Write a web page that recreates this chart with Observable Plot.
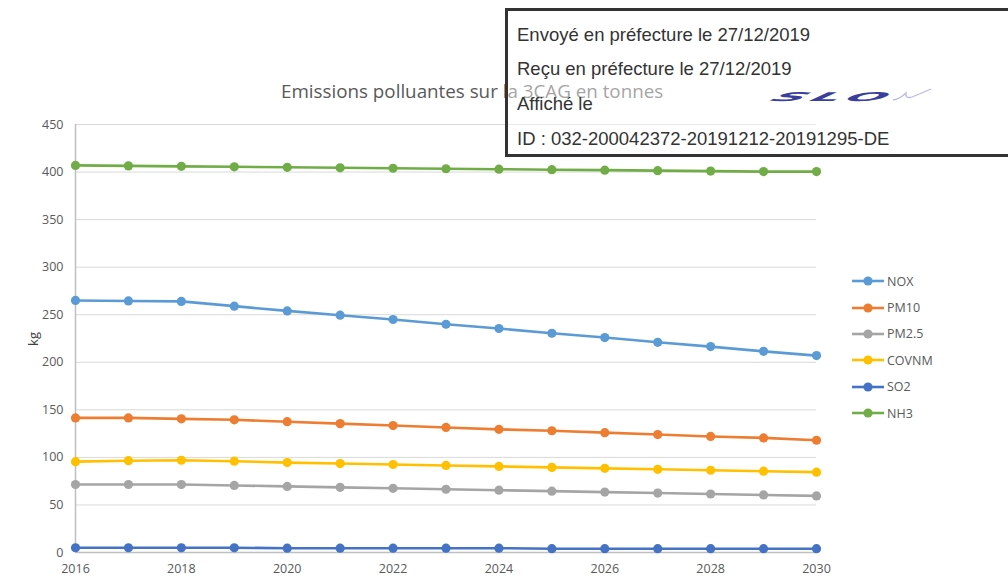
<!DOCTYPE html>
<html><head><meta charset="utf-8">
<script src="https://cdn.jsdelivr.net/npm/d3@7"></script>
<script src="https://cdn.jsdelivr.net/npm/@observablehq/plot@0.6"></script>
<style>
body{margin:0;background:#fff;}
#wrap{position:relative;width:1008px;height:580px;overflow:hidden;font-family:"Open Sans",Lato,sans-serif;}
#title{position:absolute;left:281px;top:78px;white-space:nowrap;font-size:18.8px;color:#595959;}
#ylab{position:absolute;left:26px;top:330px;transform:rotate(-90deg);font-size:13px;color:#404040;}
#legend{position:absolute;left:852px;top:268px;font-size:12.5px;color:#595959;}
#legend div{height:26.4px;display:flex;align-items:center;}
#legend svg{margin-right:3px;}
#stamp{position:absolute;left:505px;top:8px;width:520px;height:143px;border:3px solid #333;background:rgba(255,255,255,0.45);font-family:"Liberation Sans",Arial,sans-serif;font-size:18.5px;color:#333;}
#stamp .l{position:absolute;left:9px;white-space:nowrap;}
#logo{position:absolute;left:266px;top:71px;font-family:"DejaVu Sans",sans-serif;font-weight:bold;font-style:italic;font-size:30px;line-height:30px;color:#3b3f9c;letter-spacing:4px;transform:scale(1.55,0.4) skewX(-20deg);transform-origin:left center;}
#swoosh{position:absolute;left:384px;top:74px;}
</style></head>
<body><div id="wrap"><div id="title">Emissions polluantes sur la 3CAG en tonnes</div><div id="ylab">kg</div></div>
<script>
const years = [2016,2017,2018,2019,2020,2021,2022,2023,2024,2025,2026,2027,2028,2029,2030];
const seriesNames = ["NOX","PM10","PM2.5","COVNM","SO2","NH3"];
const seriesColors = ["#5B9BD5","#ED7D31","#A5A5A5","#FFC000","#4472C4","#70AD47"];
const NOX   = [265,264.5,264,259,254,249.5,245,240,235.5,230.5,226,221,216.5,211.5,207];
const PM10  = [141.5,141.5,140.5,139.5,137.5,135.5,133.5,131.5,129.5,128,126,124,122,120.5,118];
const PM25  = [71.5,71.5,71.5,70.5,69.5,68.5,67.5,66.5,65.5,64.5,63.5,62.5,61.5,60.5,59.5];
const COVNM = [95.5,96.5,97,96,94.5,93.5,92.5,91.5,90.5,89.5,88.5,87.5,86.5,85.5,84.5];
const SO2   = [5,5,5,5,4.5,4.5,4.5,4.5,4.5,4,4,4,4,4,4];
const NH3   = [407,406.5,406,405.5,405,404.5,404,403.5,403,402.5,402,401.5,401,400.5,400.5];
const yTicks = [0,50,100,150,200,250,300,350,400,450];
const xTicks = [2016,2018,2020,2022,2024,2026,2028,2030];
const stampLines = ["Envoyé en préfecture le 27/12/2019","Reçu en préfecture le 27/12/2019","Affiché le","ID : 032-200042372-20191212-20191295-DE"];

const valuesBySeries = [NOX,PM10,PM25,COVNM,SO2,NH3];
const data = [];
seriesNames.forEach((s,i)=>valuesBySeries[i].forEach((v,j)=>data.push({series:s,year:years[j],value:v})));

const chart = Plot.plot({
  width:1008, height:580,
  marginLeft:75, marginRight:192, marginTop:124, marginBottom:28,
  style:{fontFamily:"'Open Sans',Lato,sans-serif",fontSize:"12.5px",color:"#595959",background:"transparent"},
  x:{domain:[2016,2030], ticks:xTicks, tickFormat:"d", tickSize:0, tickPadding:12, label:null},
  y:{domain:[0,450], ticks:yTicks, tickSize:0, tickPadding:12, label:null},
  color:{domain:seriesNames, range:seriesColors},
  marks:[
    Plot.gridY(yTicks,{stroke:"#d9d9d9",strokeOpacity:1}),
    Plot.ruleX([2016],{stroke:"#bfbfbf",strokeWidth:1.5}),
    Plot.ruleY([0],{stroke:"#bfbfbf",strokeWidth:1.5}),
    Plot.line(data,{x:"year",y:"value",z:"series",stroke:"series",strokeWidth:2.6}),
    Plot.dot(data,{x:"year",y:"value",fill:"series",r:4.6})
  ]
});
const wrap = document.getElementById("wrap");
chart.style.position="absolute"; chart.style.left="0"; chart.style.top="0";
wrap.insertBefore(chart, wrap.firstChild);

const leg = document.createElement("div"); leg.id="legend";
seriesNames.forEach((s,i)=>{
  const d=document.createElement("div");
  d.innerHTML=`<svg width="32" height="12"><line x1="0" y1="6" x2="32" y2="6" stroke="${seriesColors[i]}" stroke-width="2.6"/><circle cx="16" cy="6" r="4.6" fill="${seriesColors[i]}"/></svg><span>${s}</span>`;
  leg.appendChild(d);
});
wrap.appendChild(leg);

const stamp=document.createElement("div"); stamp.id="stamp";
const tops=[13,47,82,117];
stampLines.forEach((t,i)=>{const e=document.createElement("div");e.className="l";e.style.top=tops[i]+"px";e.textContent=t;stamp.appendChild(e);});
const logo=document.createElement("div");logo.id="logo";logo.textContent="SLO";stamp.appendChild(logo);
const sw=document.createElementNS("http://www.w3.org/2000/svg","svg");sw.setAttribute("id","swoosh");sw.setAttribute("width","40");sw.setAttribute("height","20");
sw.innerHTML='<path d="M1 15 Q8 14 14 8 Q13 14 20 12 Q30 8 39 4" fill="none" stroke="#b8bde6" stroke-width="1.3"/>';
stamp.appendChild(sw);
wrap.appendChild(stamp);
</script></body></html>
